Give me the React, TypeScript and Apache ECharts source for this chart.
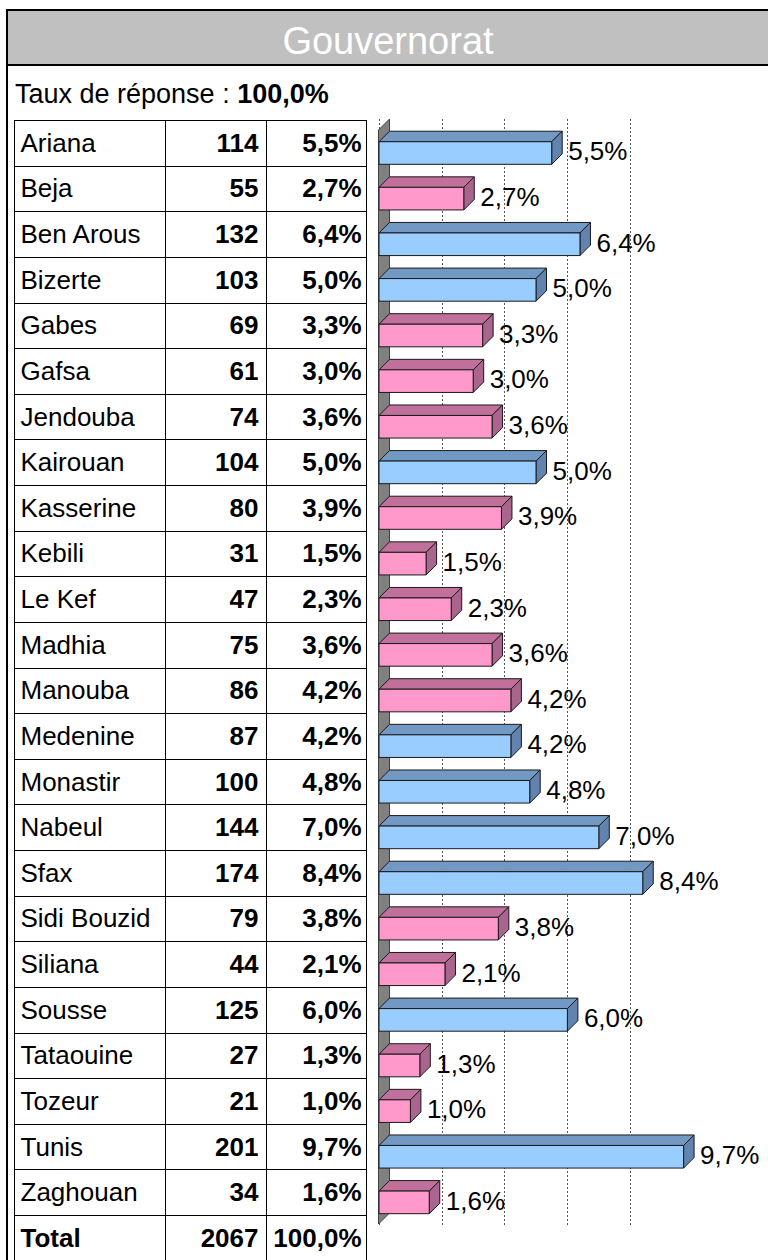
import React, { useEffect, useRef } from 'react';
import * as echarts from 'echarts';

const TITLE = 'Gouvernorat';
const RESPONSE_LABEL = 'Taux de réponse : ';
const RESPONSE_RATE = '100,0%';

const NAMES = ['Ariana', 'Beja', 'Ben Arous', 'Bizerte', 'Gabes', 'Gafsa', 'Jendouba', 'Kairouan', 'Kasserine', 'Kebili', 'Le Kef', 'Madhia', 'Manouba', 'Medenine', 'Monastir', 'Nabeul', 'Sfax', 'Sidi Bouzid', 'Siliana', 'Sousse', 'Tataouine', 'Tozeur', 'Tunis', 'Zaghouan'];
const COUNTS = [114, 55, 132, 103, 69, 61, 74, 104, 80, 31, 47, 75, 86, 87, 100, 144, 174, 79, 44, 125, 27, 21, 201, 34];
const PCTS = [5.5, 2.7, 6.4, 5.0, 3.3, 3.0, 3.6, 5.0, 3.9, 1.5, 2.3, 3.6, 4.2, 4.2, 4.8, 7.0, 8.4, 3.8, 2.1, 6.0, 1.3, 1.0, 9.7, 1.6];
const GROUPS = ['blue', 'pink', 'blue', 'blue', 'pink', 'pink', 'pink', 'blue', 'pink', 'pink', 'pink', 'pink', 'pink', 'blue', 'blue', 'blue', 'blue', 'pink', 'pink', 'blue', 'pink', 'pink', 'blue', 'pink'];

const TOTAL_LABEL = 'Total';
const TOTAL_COUNT = 2067;
const TOTAL_PCT = 100.0;

const X_MIN = 0;
const X_MAX = 10;
const X_INTERVAL = 2;

const fmtPct = (v: number) => v.toFixed(1).replace('.', ',') + '%';

const COLORS: Record<string, { front: string; top: string; side: string }> = {
  blue: { front: '#99CCFF', top: '#7299C3', side: '#6283AE' },
  pink: { front: '#FF99CC', top: '#C0709A', side: '#A9658E' },
};

const FONT = '"Liberation Sans", Arial, sans-serif';

// layout
const TABLE_TOP = 120;
const ROW_H = 45.625;
const TABLE_LEFT = 14.5;
const COL1 = 165.5;
const COL2 = 266.5;
const TABLE_RIGHT = 366.5;
const PLOT_LEFT = 379;
const PLOT_RIGHT = 693;
const W = 768;
const H = 1260;

export default function App() {
  const ref = useRef<HTMLDivElement>(null);

  useEffect(() => {
    if (!ref.current) return;
    const chart = echarts.init(ref.current, undefined, { renderer: 'svg' });
    const nRows = NAMES.length;
    const D = 10.5;

    const graphics: any[] = [];
    // header band
    graphics.push({
      type: 'rect', z: 0,
      shape: { x: 7, y: 10, width: 800, height: 55 },
      style: { fill: '#C0C0C0', stroke: '#000', lineWidth: 2 },
    });
    graphics.push({
      type: 'text', z: 1,
      style: { text: TITLE, x: 388, y: 41, fill: '#fff', font: `38px ${FONT}`, align: 'center', verticalAlign: 'middle' },
    });
    // outer left frame line
    graphics.push({
      type: 'line', z: 0,
      shape: { x1: 7, y1: 65, x2: 7, y2: H + 2 },
      style: { stroke: '#000', lineWidth: 2 },
    });
    graphics.push({
      type: 'text', z: 1,
      style: {
        text: `{n|${RESPONSE_LABEL}}{b|${RESPONSE_RATE}}`,
        x: 15, y: 94, verticalAlign: 'middle', align: 'left',
        rich: {
          n: { fontSize: 27, fontFamily: FONT, fill: '#000' },
          b: { fontSize: 27, fontFamily: FONT, fontWeight: 'bold', fill: '#000' },
        },
      },
    });
    // table lines
    const tableBottom = TABLE_TOP + (nRows + 1) * ROW_H;
    [TABLE_LEFT, COL1, COL2, TABLE_RIGHT].forEach((x) => {
      graphics.push({
        type: 'line', z: 0,
        shape: { x1: x, y1: TABLE_TOP, x2: x, y2: tableBottom + 2 },
        style: { stroke: '#000', lineWidth: 1 },
      });
    });
    for (let i = 0; i <= nRows + 1; i++) {
      const y = Math.round(TABLE_TOP + i * ROW_H) + 0.5;
      graphics.push({
        type: 'line', z: 0,
        shape: { x1: TABLE_LEFT, y1: y, x2: TABLE_RIGHT, y2: y },
        style: { stroke: '#000', lineWidth: 1 },
      });
    }
    // total row
    const totalCy = TABLE_TOP + nRows * ROW_H + ROW_H / 2;
    graphics.push({
      type: 'text', z: 1,
      style: { text: TOTAL_LABEL, x: 20.5, y: totalCy, fill: '#000', font: `bold 26px ${FONT}`, align: 'left', verticalAlign: 'middle' },
    });
    graphics.push({
      type: 'text', z: 1,
      style: { text: String(TOTAL_COUNT), x: 258.5, y: totalCy, fill: '#000', font: `bold 26px ${FONT}`, align: 'right', verticalAlign: 'middle' },
    });
    graphics.push({
      type: 'text', z: 1,
      style: { text: fmtPct(TOTAL_PCT), x: 361.5, y: totalCy, fill: '#000', font: `bold 26px ${FONT}`, align: 'right', verticalAlign: 'middle' },
    });
    // 3D side wall
    graphics.push({
      type: 'polygon', z: 5,
      shape: { points: [[378.5, 130], [389.5, 119], [389.5, 1213], [378.5, 1224]] },
      style: { fill: '#808080', stroke: '#404040', lineWidth: 1 },
    });

    const yAxisBase = {
      type: 'category',
      gridIndex: 0,
      data: NAMES,
      inverse: true,
      position: 'left',
      axisLine: { show: false },
      axisTick: { show: false },
      splitLine: { show: false },
    };

    const option: any = {
      animation: false,
      backgroundColor: '#fff',
      grid: [
        { left: PLOT_LEFT, right: W - PLOT_RIGHT, top: TABLE_TOP, height: nRows * ROW_H },
        { left: PLOT_LEFT, right: W - PLOT_RIGHT, top: 119, bottom: H - 1225 },
      ],
      xAxis: [
        { type: 'value', gridIndex: 0, min: X_MIN, max: X_MAX, interval: X_INTERVAL, show: false },
        {
          type: 'value', gridIndex: 1, min: X_MIN, max: X_MAX, interval: X_INTERVAL,
          axisLine: { show: false }, axisTick: { show: false }, axisLabel: { show: false },
          splitLine: { show: true, showMinLine: true, showMaxLine: false, lineStyle: { type: [2, 2], color: '#555', width: 1 } },
        },
      ],
      yAxis: [
        {
          ...yAxisBase,
          axisLabel: { interval: 0, align: 'left', margin: PLOT_LEFT - 20.5, fontSize: 26, fontFamily: FONT, color: '#000' },
        },
        {
          ...yAxisBase,
          axisLabel: {
            interval: 0, align: 'right', margin: PLOT_LEFT - 258.5, fontSize: 26, fontFamily: FONT, fontWeight: 'bold', color: '#000',
            formatter: (_v: string, i: number) => String(COUNTS[i]),
          },
        },
        {
          ...yAxisBase,
          axisLabel: {
            interval: 0, align: 'right', margin: PLOT_LEFT - 361.5, fontSize: 26, fontFamily: FONT, fontWeight: 'bold', color: '#000',
            formatter: (_v: string, i: number) => fmtPct(PCTS[i]),
          },
        },
        { type: 'value', gridIndex: 1, show: false, min: 0, max: 1 },
      ],
      graphic: graphics,
      series: [
        {
          type: 'custom',
          xAxisIndex: 0,
          yAxisIndex: 0,
          z: 10,
          clip: false,
          encode: { x: 0, y: 1 },
          data: PCTS.map((v, i) => [v, i]),
          renderItem: (params: any, api: any) => {
            const v = api.value(0);
            const i = api.value(1);
            const p0 = api.coord([0, i]);
            const p1 = api.coord([v, i]);
            const x0 = p0[0];
            const cy = p0[1];
            const x1 = p1[0];
            const fTop = cy - 1.1;
            const fBot = cy + 21.5;
            const c = COLORS[GROUPS[i]];
            return {
              type: 'group',
              children: [
                {
                  type: 'polygon',
                  shape: { points: [[x0, fTop], [x1, fTop], [x1 + D, fTop - D], [x0 + D, fTop - D]] },
                  style: { fill: c.top, stroke: '#1a1a1a', lineWidth: 1 },
                },
                {
                  type: 'polygon',
                  shape: { points: [[x1, fTop], [x1 + D, fTop - D], [x1 + D, fBot - D], [x1, fBot]] },
                  style: { fill: c.side, stroke: '#1a1a1a', lineWidth: 1 },
                },
                {
                  type: 'rect',
                  shape: { x: x0, y: fTop, width: x1 - x0, height: fBot - fTop },
                  style: { fill: c.front, stroke: '#1a1a1a', lineWidth: 1 },
                },
                {
                  type: 'text',
                  style: {
                    text: fmtPct(v), x: x1 + D + 6, y: cy + 8.5, fill: '#000',
                    font: `26px ${FONT}`, align: 'left', verticalAlign: 'middle',
                  },
                },
              ],
            };
          },
        },
      ],
    };

    chart.setOption(option);
    return () => chart.dispose();
  }, []);

  return <div ref={ref} style={{ position: 'absolute', left: 0, top: 0, width: W, height: H }} />;
}
